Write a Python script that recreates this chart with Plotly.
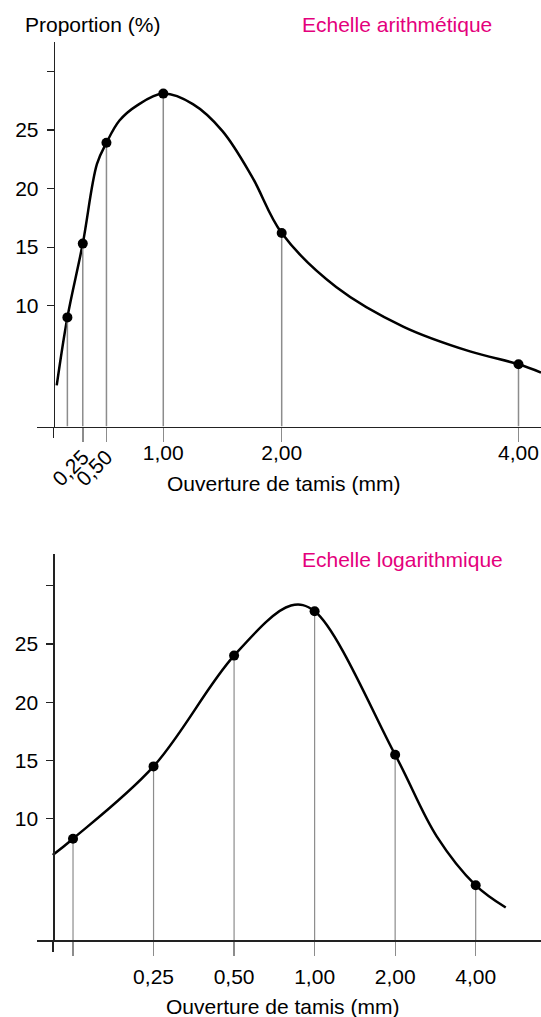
import plotly.graph_objects as go

W, H = 541, 1017

# ---------- Data: arithmetic scale (top) ----------
ari_sieve = [0.19, 0.32, 0.52, 1.00, 2.00, 4.00]
ari_prop = [9.0, 15.3, 23.9, 28.1, 16.2, 5.0]
ari_curve_x = [0.10, 0.19, 0.32, 0.44, 0.52, 0.63, 0.78, 1.00, 1.25, 1.50, 1.75, 2.00,
               2.46, 3.03, 3.59, 4.00, 4.19]
ari_curve_y = [3.2, 9.0, 15.3, 22.1, 23.9, 25.8, 27.1, 28.1, 27.2, 24.9, 21.0, 16.2,
               11.6, 8.2, 6.1, 5.0, 4.3]
ari_tick_vals = [0.32, 0.52, 1.00, 2.00, 4.00]
ari_tick_text = ["", "", "1,00", "2,00", "4,00"]
ari_rot_vals = [0.32, 0.52]
ari_rot_text = ["0,25", "0,50"]

# ---------- Data: logarithmic scale (bottom) ----------
log_sieve = [0.125, 0.25, 0.5, 1.0, 2.0, 4.0]
log_prop = [8.3, 14.5, 24.0, 27.8, 15.5, 4.3]
log_curve_x = [0.105, 0.125, 0.25, 0.5, 0.816, 1.0, 2.0, 2.86, 4.0, 5.18]
log_curve_y = [6.9, 8.3, 14.5, 24.0, 28.3, 27.8, 15.5, 8.5, 4.3, 2.4]
log_tick_vals = [0.125, 0.25, 0.5, 1.0, 2.0, 4.0]
log_tick_text = ["", "0,25", "0,50", "1,00", "2,00", "4,00"]

y_tick_vals = [10, 15, 20, 25, 30]
y_tick_text = ["10", "15", "20", "25", ""]

# ---------- Styling ----------
FONT = "Liberation Sans, Arial, sans-serif"
FS = 21
AXIS = "#222222"
DROP = "#8c8c8c"
MAGENTA = "#e4007c"

Y1 = [-0.31, 32.53]
Y2 = [-0.39, 32.69]
X1 = [-0.064, 4.19]
X2 = [-1.0366, 0.8462]
YAX1_X = 0.074     # where the y axis crosses the x axis (top)
YAX2_X = 0.1054    # same (bottom)


def px_x(p):
    return p / W


def px_y(p):
    return 1 - p / H


fig = go.Figure()

# top
fig.add_trace(go.Scatter(x=ari_curve_x, y=ari_curve_y, mode="lines",
                         line=dict(color="black", width=2.5, shape="spline", smoothing=1.0),
                         xaxis="x", yaxis="y", hoverinfo="skip", showlegend=False))
fig.add_trace(go.Scatter(x=ari_sieve, y=ari_prop, mode="markers",
                         marker=dict(color="black", size=10),
                         error_y=dict(type="data", symmetric=False,
                                      array=[0] * len(ari_prop),
                                      arrayminus=[v - Y1[0] for v in ari_prop],
                                      color=DROP, thickness=1.5, width=0),
                         xaxis="x", yaxis="y", showlegend=False))
fig.add_trace(go.Scatter(x=[], y=[], xaxis="x3", yaxis="y", showlegend=False))

# bottom
fig.add_trace(go.Scatter(x=log_curve_x, y=log_curve_y, mode="lines",
                         line=dict(color="black", width=2.5, shape="spline", smoothing=1.0),
                         xaxis="x2", yaxis="y2", hoverinfo="skip", showlegend=False))
fig.add_trace(go.Scatter(x=log_sieve, y=log_prop, mode="markers",
                         marker=dict(color="black", size=10),
                         error_y=dict(type="data", symmetric=False,
                                      array=[0] * len(log_prop),
                                      arrayminus=[v - Y2[0] for v in log_prop],
                                      color=DROP, thickness=1.2, width=0),
                         xaxis="x2", yaxis="y2", showlegend=False))

common_x = dict(showgrid=False, zeroline=False, tickfont=dict(size=FS, color="black"),
                ticks="outside", ticklen=14, tickwidth=1.5, tickcolor=DROP,
                showline=True, linecolor=AXIS, linewidth=1.5, tickmode="array")
common_y = dict(showgrid=False, zeroline=False, tickfont=dict(size=FS, color="black"),
                ticks="outside", ticklen=7, tickwidth=1.2, tickcolor=AXIS,
                showline=True, linecolor=AXIS, linewidth=1.5, tickmode="array",
                tickvals=y_tick_vals, ticktext=y_tick_text, anchor="free",
                ticklabelstandoff=4)

fig.update_layout(
    width=W, height=H,
    margin=dict(l=0, r=0, t=0, b=0),
    paper_bgcolor="white", plot_bgcolor="rgba(0,0,0,0)",
    font=dict(family=FONT, size=FS, color="black"),
    xaxis=dict(common_x, domain=[px_x(37.3), 1], range=X1, anchor="y",
               tickvals=ari_tick_vals, ticktext=ari_tick_text, ticklabelstandoff=-7,
               minor=dict(tickmode="array", tickvals=[YAX1_X], ticks="outside",
                          ticklen=10, tickwidth=1.5, tickcolor=AXIS, showgrid=False)),
    xaxis3=dict(overlaying="x", anchor="y", range=X1, matches="x",
                showgrid=False, zeroline=False, showline=False,
                tickmode="array", tickvals=ari_rot_vals, ticktext=ari_rot_text,
                tickangle=-45, ticks="outside", ticklen=9, ticklabelstandoff=0,
                tickcolor="rgba(0,0,0,0)", tickfont=dict(size=FS, color="black")),
    yaxis=dict(common_y, domain=[px_y(426.5), px_y(41.7)], range=Y1,
               position=px_x(53.7)),
    xaxis2=dict(common_x, type="log", domain=[px_x(37.3), 1], range=X2, anchor="y2",
                tickvals=log_tick_vals, ticktext=log_tick_text, ticklabelstandoff=3,
                tickwidth=1.2,
                minor=dict(tickmode="array", tickvals=[YAX2_X], ticks="outside",
                           ticklen=10, tickwidth=1.5, tickcolor=AXIS, showgrid=False)),
    yaxis2=dict(common_y, domain=[px_y(940), px_y(554.3)], range=Y2,
                position=px_x(53.3)),
)

annots = [
    ("Proportion (%)", 92, 25, "black"),
    ("Echelle arithmétique", 396.6, 25, MAGENTA),
    ("Ouverture de tamis (mm)", 283, 483.3, "black"),
    ("Echelle logarithmique", 402, 559.3, MAGENTA),
    ("Ouverture de tamis (mm)", 282.6, 1006.7, "black"),
]
for text, ax, ay, col in annots:
    fig.add_annotation(text=text, x=px_x(ax), y=px_y(ay), xref="paper", yref="paper",
                       xanchor="center", yanchor="middle", showarrow=False,
                       font=dict(size=FS, color=col, family=FONT))

fig.write_html("out.html", config={"displayModeBar": False, "staticPlot": True},
               post_script="document.body.style.margin='0';document.body.style.overflow='hidden';")
